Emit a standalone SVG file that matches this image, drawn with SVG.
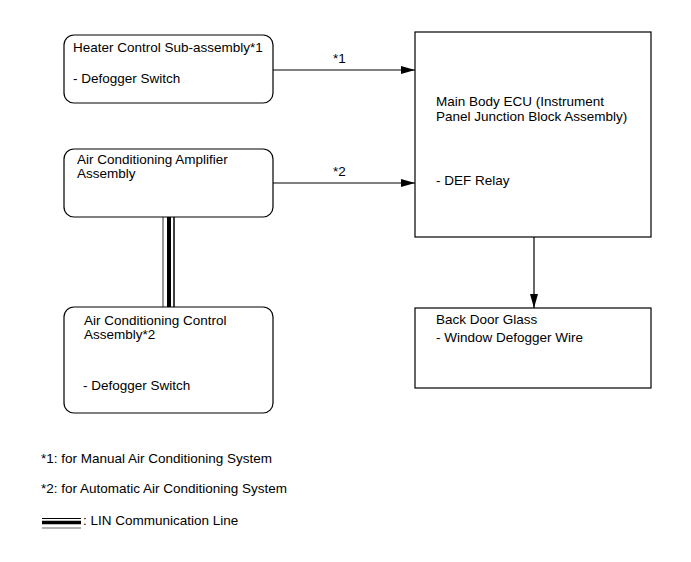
<svg xmlns="http://www.w3.org/2000/svg" width="691" height="562" viewBox="0 0 691 562">
<style>
.box{fill:#fff;stroke:#000;stroke-width:1.2}
.t{font-family:"Liberation Sans",Arial,sans-serif;font-size:13.5px;fill:#000}
.ln{stroke:#000;stroke-width:1.2;fill:none}
</style>
<defs>
<marker id="ah" viewBox="0 0 14 8" refX="14" refY="4" markerWidth="14" markerHeight="8" markerUnits="userSpaceOnUse" orient="auto">
<path d="M0,0 L14,4 L0,8 Z" fill="#000"/>
</marker>
</defs>
<rect width="691" height="562" fill="#fff"/>
<g id="connectors">
<line class="ln" x1="273" y1="70" x2="415" y2="70" marker-end="url(#ah)"/>
<text class="t" x="333" y="63">*1</text>
<line class="ln" x1="273" y1="183" x2="415" y2="183" marker-end="url(#ah)"/>
<text class="t" x="333" y="176">*2</text>
<line class="ln" x1="534" y1="237" x2="534" y2="308" marker-end="url(#ah)"/>
<g id="lin">
<line x1="163" y1="217" x2="163" y2="307" stroke="#999" stroke-width="2"/>
<line x1="169" y1="217" x2="169" y2="307" stroke="#000" stroke-width="4"/>
<line x1="174" y1="217" x2="174" y2="307" stroke="#000" stroke-width="1.5"/>
</g>
</g>
<g id="heater">
<rect class="box" x="64" y="35" width="209" height="68" rx="10"/>
<text class="t" x="73" y="52">Heater Control Sub-assembly*1</text>
<text class="t" x="73" y="83">- Defogger Switch</text>
</g>
<g id="amplifier">
<rect class="box" x="64" y="149" width="209" height="68" rx="10"/>
<text class="t" x="77" y="164">Air Conditioning Amplifier</text>
<text class="t" x="77" y="178">Assembly</text>
</g>
<g id="control">
<rect class="box" x="64" y="307" width="209" height="106" rx="10"/>
<text class="t" x="84" y="325">Air Conditioning Control</text>
<text class="t" x="84" y="339">Assembly*2</text>
<text class="t" x="83" y="390">- Defogger Switch</text>
</g>
<g id="ecu">
<rect class="box" x="415" y="32" width="236" height="205"/>
<text class="t" x="436" y="106">Main Body ECU (Instrument</text>
<text class="t" x="436" y="121">Panel Junction Block Assembly)</text>
<text class="t" x="436" y="185">- DEF Relay</text>
</g>
<g id="backdoor">
<rect class="box" x="415" y="308" width="236" height="80"/>
<text class="t" x="436" y="324">Back Door Glass</text>
<text class="t" x="436" y="342">- Window Defogger Wire</text>
</g>
<g id="legend">
<text class="t" x="41" y="463">*1: for Manual Air Conditioning System</text>
<text class="t" x="41" y="493">*2: for Automatic Air Conditioning System</text>
<line x1="42" y1="518.5" x2="81" y2="518.5" stroke="#000" stroke-width="1.2"/>
<line x1="42" y1="522.5" x2="81" y2="522.5" stroke="#000" stroke-width="3.5"/>
<line x1="42" y1="528" x2="81" y2="528" stroke="#999" stroke-width="1.5"/>
<text class="t" x="83" y="525">: LIN Communication Line</text>
</g>
</svg>
